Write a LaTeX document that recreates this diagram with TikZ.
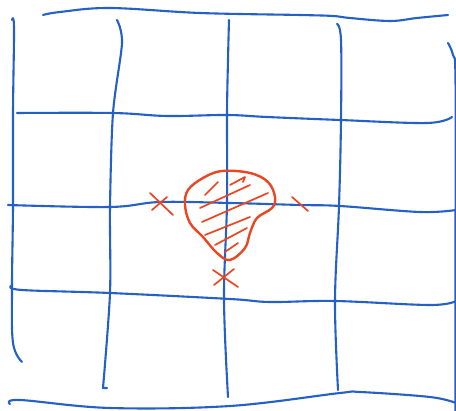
\documentclass[tikz,border=0pt]{standalone}
\definecolor{penblue}{RGB}{36,96,198}
\definecolor{penred}{RGB}{234,70,34}
\begin{document}
\begin{tikzpicture}[x=1pt,y=-1pt,
  grid/.style={draw=penblue,line width=2.1pt,line cap=round,line join=round},
  redpen/.style={draw=penred,line width=2.4pt,line cap=round,line join=round},
  hatch/.style={draw=penred,line width=1.7pt,line cap=round,line join=round}]
\useasboundingbox (0,0) rectangle (456,411);
\fill[white] (0,0) rectangle (456,411);
% top border
\draw[grid] plot[smooth,tension=0.6] coordinates {(43,15) (60,12) (110,8) (200,13) (300,15) (333,16) (350,18) (390,21) (417,18) (448,15)};
% horizontal rows
\draw[grid] plot[smooth,tension=0.6] coordinates {(17,113) (113,113) (167,116) (227,115) (267,117) (340,120) (427,123) (452,117)};
\draw[grid] plot[smooth,tension=0.6] coordinates {(8,205) (110,207) (160,202) (230,203) (300,205) (340,206) (420,212) (456,210)};
\draw[grid] plot[smooth,tension=0.6] coordinates {(11,286) (22,290) (110,293) (230,299) (270,302) (335,301) (430,305) (456,301)};
% bottom border
\draw[grid] plot[smooth,tension=0.6] coordinates {(10,404) (20,400) (110,408) (230,406) (340,393) (360,392) (430,397) (456,403)};
% left border
\draw[grid] plot[smooth,tension=0.6] coordinates {(12,20) (14,28) (13,113) (13,205) (12,287) (13,343) (22,362)};
% vertical 2
\draw[grid] plot[smooth,tension=0.5] coordinates {(117,20) (122,43) (113,113) (110,207) (110,293) (103,388)} -- (107,388);
% vertical 3
\draw[grid] plot[smooth,tension=0.6] coordinates {(229,20) (228,60) (227,115) (227,203) (224,299) (228,397)};
% vertical 4
\draw[grid] plot[smooth,tension=0.6] coordinates {(337,24) (341,40) (341,120) (339,206) (335,301) (338,390)};
% right border
\draw[grid] plot[smooth,tension=0.6] coordinates {(448,43) (453,55) (455.5,80) (455.5,250) (455.5,411)};
% red blob
\draw[redpen] plot[smooth cycle,tension=0.6] coordinates {(203,178) (222,171) (250,173) (268,182) (275,197) (272,208) (257,218) (250,233) (245,248) (230,260) (217,253) (203,237) (190,223) (185,205) (188,190)};
% hatching
\draw[hatch] (205,195) -- (218,182);
\draw[hatch] (230,185) -- (245,177) -- (243,182);
\draw[hatch] (200,208) -- (250,185);
\draw[hatch] (202,222) -- (268,193);
\draw[hatch] (205,235) -- (250,217);
\draw[hatch] (215,245) -- (247,228);
\draw[hatch] (225,252) -- (238,243);
% crosses
\draw[hatch] (150,193) -- (173,215) (152,210) -- (167,197);
\draw[hatch] (292,197) -- (308,211);
\draw[hatch] (213,270) -- (238,287) (214,285) -- (234,269);
\end{tikzpicture}
\end{document}
